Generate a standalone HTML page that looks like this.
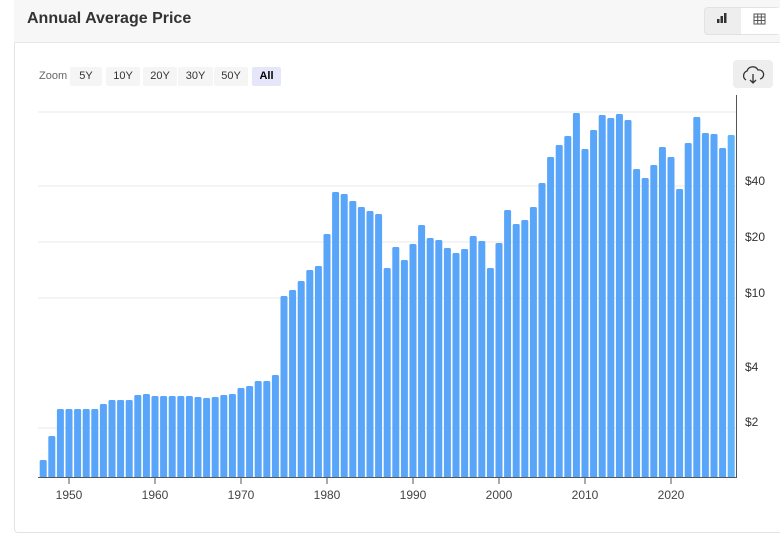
<!DOCTYPE html>
<html><head><meta charset="utf-8"><style>
body{margin:0;width:780px;height:535px;background:#fff;font-family:"Liberation Sans",sans-serif;overflow:hidden;position:relative}
.card{position:absolute;left:14px;top:-1px;width:780px;height:532px;border:1px solid #e3e3e3;border-radius:4px;background:#fff}
.hdr{position:absolute;left:14px;top:0;width:766px;height:42px;background:#f7f7f7;border-bottom:1px solid #e6e6e6}
.title{position:absolute;left:27px;top:10px;font-size:16px;font-weight:bold;color:#333}
.tog{position:absolute;left:704px;top:7px;width:76px;height:28px;border-radius:4px;background:#eee;border:1px solid #e2e2e2;box-sizing:border-box}
.tog .r{position:absolute;left:36px;top:0;width:40px;height:26px;background:#fff}
.zb{position:absolute;top:67px;height:19px;font-size:11px;color:#333;background:#f5f5f5;border-radius:2px;text-align:center;line-height:19px}
.dl{position:absolute;left:733px;top:60px;width:40px;height:28px;background:#eee;border-radius:4px}
</style></head><body>
<div class="card"></div>
<div class="hdr"></div>
<div class="title">Annual Average Price</div>
<div class="tog"><div class="r"></div></div>
<svg style="position:absolute;left:0;top:0" width="780" height="535">
<rect x="717" y="19" width="2.5" height="4" fill="#333"/><rect x="720.5" y="16" width="2.5" height="7" fill="#333"/><rect x="724" y="13" width="2.5" height="10" fill="#333"/>
<rect x="754" y="14" width="11" height="10" fill="none" stroke="#555" stroke-width="1"/><line x1="754" y1="17" x2="765" y2="17" stroke="#555"/><line x1="754" y1="20.5" x2="765" y2="20.5" stroke="#555"/><line x1="757.7" y1="14" x2="757.7" y2="24" stroke="#555"/><line x1="761.3" y1="14" x2="761.3" y2="24" stroke="#555"/>
</svg>
<div style="position:absolute;left:39px;top:67px;font-size:11px;color:#666;line-height:19px">Zoom</div>
<div class="zb" style="left:70px;width:32px">5Y</div>
<div class="zb" style="left:106px;width:34px">10Y</div>
<div class="zb" style="left:143px;width:34px">20Y</div>
<div class="zb" style="left:178px;width:35px">30Y</div>
<div class="zb" style="left:214px;width:34px">50Y</div>
<div class="zb" style="left:252px;width:29px;background:#e6e6fb;font-weight:bold;color:#000">All</div>
<div class="dl"></div>
<svg id="c" style="position:absolute;left:0;top:0" width="780" height="535"></svg>
<script>
var s='';
s+='<path d="M746 80 a5 5 0 0 1 1-9 a6 6 0 0 1 11-1 a4.5 4.5 0 0 1 2 9 M753 74v9 M750 80l3 3 3-3" fill="none" stroke="#333" stroke-width="1.3"/>';
[112,186,242,298,428].forEach(function(y){s+='<line x1="38" x2="736" y1="'+y+'" y2="'+y+'" stroke="#e8e8e8"/>';});
var t=[460,436,409,409,409,409,409,404,400,400,400,395,394,396,396,396,396,396,397,398,397,395,394,388,386,381,381,375,296,290,281,270,266,234,192,194,201,207,211,214,268,247,260,244,225,238,240,248,253,249,236,241,268,243,210,224,220,207,183,157,145,136,113,149,130,115,118,114,120,169,178,165,147,157,189,143,117,133,134,148,135];
for(var i=0;i<t.length;i++){var x=69+(i-3)*8.6-3.5;var c=i==t.length-1?'#5fb4fb':'#58a5f9';
s+='<rect x="'+x.toFixed(1)+'" y="'+t[i]+'" width="7" height="'+(478-t[i])+'" rx="1.5" fill="'+c+'"/>';}
s+='<line x1="38" x2="737" y1="477.5" y2="477.5" stroke="#555"/>';
s+='<line x1="736.5" x2="736.5" y1="95" y2="478" stroke="#555"/>';
[1950,1960,1970,1980,1990,2000,2010,2020].forEach(function(y){var x=69+(y-1950)*8.6;s+='<line x1="'+x+'" x2="'+x+'" y1="478" y2="484" stroke="#555"/><text x="'+x+'" y="499" font-size="12" fill="#444" text-anchor="middle" font-family="Liberation Sans">'+y+'</text>';});
[['$40',185],['$20',241],['$10',297],['$4',371],['$2',426]].forEach(function(a){s+='<text x="745" y="'+a[1]+'" font-size="12" fill="#333" font-family="Liberation Sans">'+a[0]+'</text>';});
document.getElementById('c').innerHTML=s;
</script>
</body></html>
